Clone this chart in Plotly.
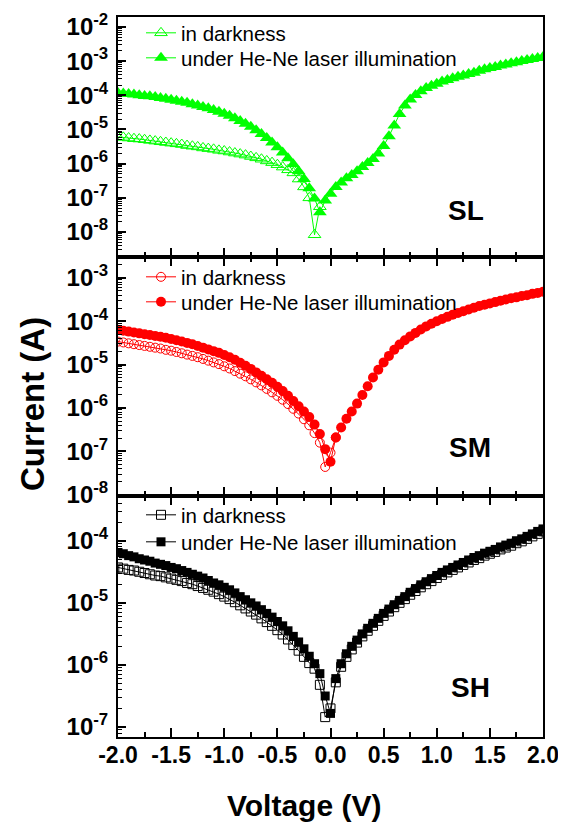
import math
import plotly.graph_objects as go

# ---------------- data (voltage sweep, V) ----------------
voltage = [-2.00, -1.95, -1.90, -1.85, -1.80, -1.75, -1.70, -1.65, -1.60, -1.55,
           -1.50, -1.45, -1.40, -1.35, -1.30, -1.25, -1.20, -1.15, -1.10, -1.05,
           -1.00, -0.95, -0.90, -0.85, -0.80, -0.75, -0.70, -0.65, -0.60, -0.55,
           -0.50, -0.45, -0.40, -0.35, -0.30, -0.25, -0.20, -0.15, -0.10, -0.05,
           0.00, 0.05, 0.10, 0.15, 0.20, 0.25, 0.30, 0.35, 0.40, 0.45,
           0.50, 0.55, 0.60, 0.65, 0.70, 0.75, 0.80, 0.85, 0.90, 0.95,
           1.00, 1.05, 1.10, 1.15, 1.20, 1.25, 1.30, 1.35, 1.40, 1.45,
           1.50, 1.55, 1.60, 1.65, 1.70, 1.75, 1.80, 1.85, 1.90, 1.95, 2.00]

# log10 of current (A)
sl_dark_log = [-5.22, -5.23, -5.25, -5.27, -5.28, -5.30, -5.32, -5.34, -5.36, -5.38,
               -5.40, -5.42, -5.44, -5.47, -5.49, -5.51, -5.54, -5.56, -5.58, -5.61,
               -5.63, -5.66, -5.69, -5.72, -5.75, -5.79, -5.83, -5.87, -5.92, -5.97,
               -6.03, -6.10, -6.18, -6.27, -6.45, -6.68, -7.00, -8.08, -7.26]
sl_light_log = [-3.93, -3.95, -3.96, -3.98, -4.00, -4.02, -4.03, -4.05, -4.08, -4.10,
                -4.13, -4.16, -4.19, -4.22, -4.26, -4.30, -4.34, -4.38, -4.43, -4.48,
                -4.54, -4.60, -4.67, -4.75, -4.83, -4.92, -5.02, -5.13, -5.25, -5.38,
                -5.52, -5.67, -5.84, -6.02, -6.22, -6.45, -6.72, -7.02, -7.42, -7.08,
                -6.88, -6.68, -6.55, -6.43, -6.33, -6.22, -6.10, -5.98, -5.86, -5.70,
                -5.48, -5.20, -4.88, -4.55, -4.30, -4.12, -3.99, -3.88, -3.79, -3.72,
                -3.66, -3.60, -3.55, -3.50, -3.46, -3.42, -3.38, -3.34, -3.28, -3.24,
                -3.20, -3.17, -3.13, -3.10, -3.06, -3.03, -3.00, -2.97, -2.94, -2.91, -2.88]

sm_dark_log = [-4.47, -4.49, -4.51, -4.53, -4.55, -4.57, -4.59, -4.61, -4.63, -4.66,
               -4.68, -4.71, -4.74, -4.77, -4.80, -4.83, -4.87, -4.91, -4.95, -4.99,
               -5.04, -5.09, -5.15, -5.21, -5.27, -5.34, -5.41, -5.48, -5.56, -5.64,
               -5.72, -5.81, -5.91, -6.02, -6.13, -6.26, -6.40, -6.58, -6.80, -7.36,
               -7.03, -6.68]
sm_light_log = [-4.20, -4.22, -4.24, -4.26, -4.28, -4.30, -4.32, -4.34, -4.36, -4.38,
                -4.41, -4.44, -4.47, -4.50, -4.53, -4.57, -4.61, -4.65, -4.69, -4.73,
                -4.78, -4.83, -4.89, -4.96, -5.03, -5.10, -5.18, -5.26, -5.34, -5.42,
                -5.51, -5.61, -5.72, -5.84, -5.96, -6.08, -6.21, -6.38, -6.60, -6.95,
                -7.24, -6.68, -6.45, -6.25, -6.08, -5.90, -5.70, -5.50, -5.30, -5.12,
                -4.95, -4.80, -4.66, -4.54, -4.44, -4.35, -4.27, -4.19, -4.12, -4.06,
                -4.00, -3.95, -3.90, -3.85, -3.81, -3.77, -3.73, -3.69, -3.65, -3.62,
                -3.59, -3.56, -3.53, -3.50, -3.47, -3.45, -3.42, -3.40, -3.37, -3.35, -3.32]

sh_dark_log = [-4.43, -4.45, -4.47, -4.48, -4.50, -4.52, -4.54, -4.56, -4.57, -4.59,
               -4.61, -4.63, -4.65, -4.68, -4.70, -4.73, -4.76, -4.79, -4.82, -4.86,
               -4.90, -4.94, -4.99, -5.04, -5.09, -5.14, -5.19, -5.25, -5.31, -5.37,
               -5.44, -5.51, -5.59, -5.68, -5.77, -5.87, -5.97, -6.06, -6.32, -6.84,
               -6.70, -6.28, -6.03, -5.87, -5.75, -5.64, -5.54, -5.45, -5.37, -5.29,
               -5.21, -5.14, -5.07, -5.00, -4.94, -4.87, -4.81, -4.75, -4.70, -4.65,
               -4.60, -4.55, -4.51, -4.47, -4.43, -4.39, -4.35, -4.31, -4.28, -4.24,
               -4.21, -4.18, -4.14, -4.11, -4.08, -4.04, -4.01, -3.97, -3.93, -3.89, -3.85]
sh_light_log = [-4.19, -4.21, -4.24, -4.26, -4.29, -4.31, -4.33, -4.36, -4.38, -4.40,
                -4.43, -4.45, -4.48, -4.51, -4.54, -4.57, -4.60, -4.64, -4.68, -4.71,
                -4.75, -4.79, -4.84, -4.90, -4.95, -5.00, -5.05, -5.11, -5.17, -5.23,
                -5.30, -5.37, -5.45, -5.54, -5.63, -5.74, -5.86, -5.98, -6.14, -6.50,
                -6.78, -6.22, -5.98, -5.82, -5.70, -5.60, -5.50, -5.41, -5.33, -5.25,
                -5.17, -5.10, -5.03, -4.96, -4.90, -4.83, -4.77, -4.71, -4.66, -4.61,
                -4.56, -4.51, -4.47, -4.43, -4.39, -4.35, -4.31, -4.27, -4.24, -4.20,
                -4.17, -4.14, -4.10, -4.07, -4.04, -4.00, -3.97, -3.93, -3.89, -3.85, -3.81]

x_tick_vals = [-2.0, -1.5, -1.0, -0.5, 0.0, 0.5, 1.0, 1.5, 2.0]
x_tick_text = ["-2.0", "-1.5", "-1.0", "-0.5", "0.0", "0.5", "1.0", "1.5", "2.0"]

panel_names = ["SL", "SM", "SH"]
legend_names = ["in darkness", "under He-Ne laser illumination"]
y_decades = [[-8, -7, -6, -5, -4, -3, -2], [-8, -7, -6, -5, -4, -3], [-7, -6, -5, -4]]

# ---------------- figure ----------------
FONT = "Liberation Sans, Arial, sans-serif"
OFF = 8  # page body margin
W, H = 566 - OFF, 824 - OFF
PLOT_L, PLOT_R, PLOT_T, PLOT_B = 118, 543, 17, 737   # page pixel coords of plot area
L, T = PLOT_L - OFF, PLOT_T - OFF
R, B = (W + OFF) - PLOT_R, (H + OFF) - PLOT_B
PW, PH = PLOT_R - PLOT_L, PLOT_B - PLOT_T


def px2paper(px, py):
    return (px - PLOT_L) / PW, (PLOT_B - py) / PH


panel_px = [(17, 257), (257, 496), (496, 737)]
y_ranges = [[-8.73, -1.71], [-8.03, -2.52], [-7.16, -3.28]]
colors = ["#00ff00", "#ff0000", "#000000"]
sym_open = ["triangle-up-open", "circle-open", "square-open"]
sym_fill = ["triangle-up", "circle", "square"]
sz_open = [11, 9, 9]
sz_fill = [12, 10, 9]
darks = [sl_dark_log, sm_dark_log, sh_dark_log]
lights = [sl_light_log, sm_light_log, sh_light_log]
legend_rows = [(33, 58), (277, 302), (515, 542)]

fig = go.Figure()
layout = dict(
    width=W, height=H, margin=dict(l=L, r=R, t=T, b=B, autoexpand=False),
    paper_bgcolor="white", plot_bgcolor="white", showlegend=True,
    font=dict(family=FONT, color="black"),
    annotations=[],
)

for i in range(3):
    sfx = "" if i == 0 else str(i + 1)
    dark = [10 ** v for v in darks[i]]
    light = [10 ** v for v in lights[i]]
    lg_dark = "legend" if i == 0 else "legend%d" % (2 * i + 1)
    lg_light = "legend%d" % (2 * i + 2)
    fig.add_trace(go.Scatter(
        x=voltage[:len(dark)], y=dark, mode="lines+markers", name=legend_names[0],
        xaxis="x" + sfx, yaxis="y" + sfx, legend=lg_dark, showlegend=True,
        line=dict(color=colors[i], width=1),
        marker=dict(symbol=sym_open[i], size=sz_open[i], color=colors[i],
                    line=dict(width=1, color=colors[i]))))
    fig.add_trace(go.Scatter(
        x=voltage[:len(light)], y=light, mode="lines+markers", name=legend_names[1],
        xaxis="x" + sfx, yaxis="y" + sfx, legend=lg_light, showlegend=True,
        line=dict(color=colors[i], width=1),
        marker=dict(symbol=sym_fill[i], size=sz_fill[i], color=colors[i],
                    line=dict(width=0))))

    top, bot = panel_px[i]
    d0 = (PLOT_B - bot) / PH
    d1 = (PLOT_B - top) / PH
    lo, hi = y_ranges[i]
    minor_vals = []
    for n in range(int(lo) - 1, int(hi) + 1):
        for k in range(2, 10):
            v = k * 10 ** n
            if lo < math.log10(v) < hi:
                minor_vals.append(v)
    layout["xaxis" + sfx] = dict(
        domain=[0, 1], anchor="y" + sfx, range=[-2.0, 2.0],
        tickmode="array", tickvals=x_tick_vals, ticktext=x_tick_text,
        showticklabels=(i == 2), ticks="inside", ticklen=9, tickwidth=2,
        tickcolor="black", showline=True, linecolor="black", linewidth=2,
        mirror=True if i == 0 else "ticks", showgrid=False, zeroline=False,
        ticklabelstandoff=-4,
        minor=dict(ticks="inside", ticklen=5, tickwidth=1.5, tickcolor="black",
                   tickmode="array",
                   tickvals=[-1.75, -1.25, -0.75, -0.25, 0.25, 0.75, 1.25, 1.75]),
        tickfont=dict(family=FONT, size=23, weight="bold", color="black"),
    )
    layout["yaxis" + sfx] = dict(
        domain=[d0, d1], anchor="x" + sfx, type="log", range=[lo, hi],
        tickmode="array", tickvals=[10 ** e for e in y_decades[i]],
        ticktext=["10<sup>%d</sup>" % e for e in y_decades[i]],
        ticks="inside", ticklen=8, tickwidth=2, tickcolor="black",
        showline=True, linecolor="black", linewidth=2, mirror=True,
        showgrid=False, zeroline=False, ticklabelstandoff=3,
        minor=dict(ticks="inside", ticklen=4, tickwidth=1, tickcolor="black",
                   tickmode="array", tickvals=minor_vals),
        tickfont=dict(family=FONT, size=24, weight="bold", color="black"),
    )
    for lg, row_y in zip((lg_dark, lg_light), legend_rows[i]):
        lx, ly = px2paper(141, row_y)
        layout[lg] = dict(
            x=lx, y=ly, xanchor="left", yanchor="middle", bgcolor="rgba(0,0,0,0)",
            borderwidth=0, font=dict(family=FONT, size=20.5, color="black"),
            visible=True,
        )

label_pos = [(466, 210), (470, 447), (470, 687)]
for name, (px, py) in zip(panel_names, label_pos):
    ax_, ay_ = px2paper(px, py)
    layout["annotations"].append(dict(
        text=name, x=ax_, y=ay_, xref="paper", yref="paper", showarrow=False,
        xanchor="center", yanchor="middle",
        font=dict(family=FONT, size=28, weight="bold", color="black")))

vx, vy = px2paper(304, 805)
layout["annotations"].append(dict(
    text="Voltage (V)", x=vx, y=vy, xref="paper", yref="paper", showarrow=False,
    xanchor="center", yanchor="middle",
    font=dict(family=FONT, size=30, weight="bold", color="black")))
cx, cy = px2paper(32, 404)
layout["annotations"].append(dict(
    text="Current (A)", x=cx, y=cy, xref="paper", yref="paper", showarrow=False,
    xanchor="center", yanchor="middle", textangle=-90,
    font=dict(family=FONT, size=33, weight="bold", color="black")))

fig.update_layout(**layout)
fig.write_html("out.html")
